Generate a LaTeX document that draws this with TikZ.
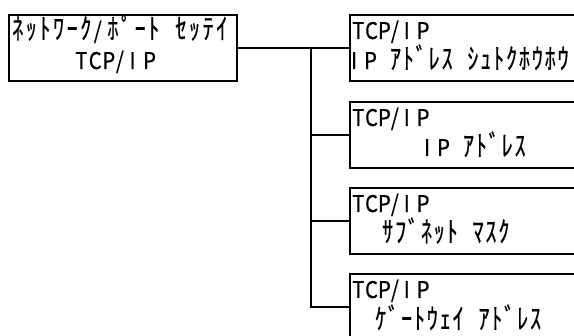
\documentclass[tikz,border=0pt]{standalone}
\usepackage{fontspec}
\newfontfamily\lcdfont[FakeStretch=0.88,FakeBold=0.5]{Noto Sans CJK JP}
\newlength\lcdw
\setlength\lcdw{12.9pt}
\newcommand\lcdchar[1]{\makebox[\lcdw][l]{\ifnum`#1>127 \scalebox{1.1}[1.25]{#1}\else #1\fi}}
\ExplSyntaxOn
\NewDocumentCommand\lcd{m}{\str_map_inline:nn{#1}{\lcdchar{##1}}}
\ExplSyntaxOff
\tikzset{
  frame/.style={draw, line width=2pt, rectangle, inner sep=0pt, anchor=north west},
  rbox/.style={frame, minimum width=260pt, minimum height=66pt},
  txt/.style={anchor=base west, inner sep=0pt, font=\lcdfont\fontsize{23}{23}\selectfont},
  wide/.style={txt, font=\lcdfont\fontsize{23}{23}\selectfont\setlength\lcdw{13.6pt}},
  conn/.style={line width=2pt}
}
\begin{document}
\begin{tikzpicture}[x=1pt,y=-1pt]
\clip (0,0) rectangle (574,336);
\node[frame, minimum width=228pt, minimum height=66pt] (main) at (8,14) {};
\node[wide] (m1) at (12,39) {\lcd{ﾈｯﾄﾜｰｸ/ﾎﾟｰﾄ ｾｯﾃｲ}};
\node[wide] (m2) at (75,69) {\lcd{TCP/IP}};
\node[rbox] (b1) at (349,14) {};
\node[rbox] (b2) at (349,101) {};
\node[rbox] (b3) at (349,187) {};
\node[rbox] (b4) at (349,273) {};
\node[txt] (t1a) at (352,39) {\lcd{TCP/IP}};
\node[txt] (t1b) at (351,69) {\lcd{IP ｱﾄﾞﾚｽ ｼｭﾄｸﾎｳﾎｳ}};
\node[txt] (t2a) at (352,126) {\lcd{TCP/IP}};
\node[txt] (t2b) at (424,156) {\lcd{IP ｱﾄﾞﾚｽ}};
\node[txt] (t3a) at (352,212) {\lcd{TCP/IP}};
\node[txt] (t3b) at (382,242) {\lcd{ｻﾌﾞﾈｯﾄ ﾏｽｸ}};
\node[txt] (t4a) at (352,298) {\lcd{TCP/IP}};
\node[txt] (t4b) at (375,329) {\lcd{ｹﾞｰﾄｳｪｲ ｱﾄﾞﾚｽ}};
\coordinate (j) at (311,47);
\draw[conn] (main.east) -- (b1.west);
\draw[conn] (j) |- (b4.west);
\draw[conn] (j |- b2.west) -- (b2.west);
\draw[conn] (j |- b3.west) -- (b3.west);
\end{tikzpicture}
\end{document}
